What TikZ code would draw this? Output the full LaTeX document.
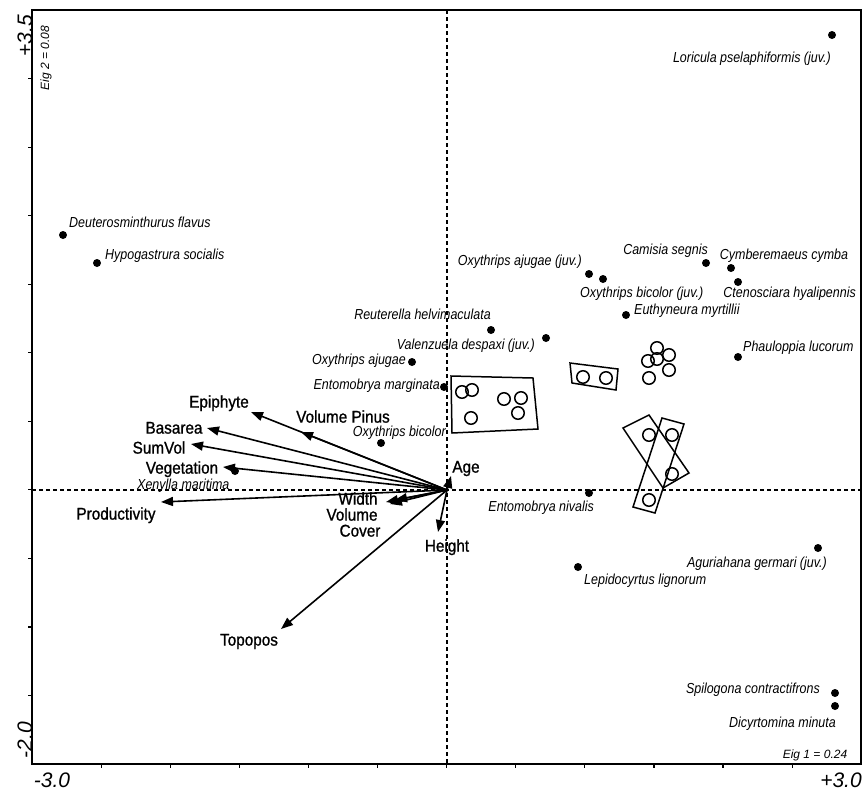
\documentclass[tikz,border=0pt]{standalone}
\usepackage{fontspec}
\setmainfont{Liberation Sans}
\newfontfamily\spfont[FakeStretch=0.86]{Liberation Sans}
\newfontfamily\varfont[FakeStretch=0.9,FakeBold=1]{Liberation Sans}
\usetikzlibrary{arrows.meta}
\begin{document}
\begin{tikzpicture}[x=1pt,y=-1pt,
  splabel/.style={font=\spfont\itshape\fontsize{14.5}{16}\selectfont, inner sep=0pt, text height=0.72em, text depth=0.2em},
  varlabel/.style={font=\varfont\fontsize{17}{19}\selectfont, inner sep=0pt, text height=0.72em, text depth=0pt},
  axlabel/.style={font=\itshape\fontsize{21}{23}\selectfont, inner sep=0pt},
  eiglabel/.style={font=\itshape\fontsize{12}{14}\selectfont, inner sep=0pt},
  dot/.style={circle, fill=black, minimum size=8pt, inner sep=0pt},
  sample/.style={circle, draw=black, line width=1.5pt, minimum size=12.5pt, inner sep=0pt},
  envarrow/.style={line width=1.6pt, -{Triangle[length=12pt,width=9pt]}},
  boxline/.style={line width=1.5pt, line join=miter},
  axisdash/.style={line width=1.6pt, dash pattern=on 4pt off 3pt},
  frameline/.style={line width=1.8pt},
  tickline/.style={line width=1.2pt}
]
\useasboundingbox (0,0) rectangle (864,793);

% frame and ticks
\draw[frameline] (32,10) rectangle (861,764);
\foreach \k in {1,...,10} \draw[tickline] (32,{10+68.55*\k}) -- ++(-4,0);
\foreach \k in {1,...,11} \draw[tickline] ({32+69.1*\k},764) -- ++(0,4);

% dashed axes
\coordinate (O) at (447,490);
\coordinate (vtop) at (447,10);
\coordinate (vbot) at (447,764);
\coordinate (hleft) at (32,490);
\coordinate (hright) at (861,490);
\draw[axisdash] (vtop) -- (vbot);
\draw[axisdash] (hleft) -- (hright);

% axis labels
\node[axlabel, rotate=90] (yhi) at (25,36) {+3.5};
\node[axlabel, rotate=90] (ylo) at (25,740) {-2.0};
\node[axlabel] (xlo) at (52,780) {-3.0};
\node[axlabel] (xhi) at (841,780) {+3.0};
\node[eiglabel, rotate=90] (eig2) at (46,58) {Eig 2 = 0.08};
\node[eiglabel] (eig1) at (815,755) {Eig 1 = 0.24};

% sample boxes
\draw[boxline] (451,376) -- (533,378) -- (538,429) -- (452,433) -- cycle;
\draw[boxline] (570,363) -- (618,369) -- (616,390) -- (572,383) -- cycle;
\draw[boxline] (623,428) -- (649,415) -- (689,473) -- (663,488) -- cycle;
\draw[boxline] (662,418) -- (684,424) -- (655,513) -- (633,507) -- cycle;

% samples
\node[sample] (s1) at (462,392) {};
\node[sample] (s2) at (472,390) {};
\node[sample] (s3) at (471,418) {};
\node[sample] (s4) at (504,399) {};
\node[sample] (s5) at (521,398) {};
\node[sample] (s6) at (518,413) {};
\node[sample] (s7) at (583,377) {};
\node[sample] (s8) at (606,378) {};
\node[sample] (s9) at (657,348) {};
\node[sample] (s10) at (648,361) {};
\node[sample] (s11) at (657,359) {};
\node[sample] (s12) at (669,355) {};
\node[sample] (s13) at (669,370) {};
\node[sample] (s14) at (649,378) {};
\node[sample] (s15) at (649,435) {};
\node[sample] (s16) at (672,435) {};
\node[sample] (s17) at (672,474) {};
\node[sample] (s18) at (649,500) {};

% species
\node[dot] (d1) at (832,35) {};
\node[splabel, anchor=east] (l1) at (831,60) {Loricula pselaphiformis (juv.)};
\node[dot] (d2) at (63,235) {};
\node[splabel, anchor=west] (l2) at (69,225) {Deuterosminthurus flavus};
\node[dot] (d3) at (97,263) {};
\node[splabel, anchor=west] (l3) at (105,257) {Hypogastrura socialis};
\node[dot] (d4) at (706,263) {};
\node[splabel, anchor=east] (l4) at (708,252) {Camisia segnis};
\node[dot] (d5) at (731,268) {};
\node[splabel] (l5) at (784,257) {Cymberemaeus cymba};
\node[dot] (d6) at (738,282) {};
\node[splabel, anchor=east] (l6) at (856,295) {Ctenosciara hyalipennis};
\node[dot] (d7) at (589,274) {};
\node[splabel, anchor=east] (l7) at (582,263) {Oxythrips ajugae (juv.)};
\node[dot] (d8) at (603,279) {};
\node[splabel, anchor=west] (l8) at (580,295) {Oxythrips bicolor (juv.)};
\node[dot] (d9) at (491,330) {};
\node[splabel, anchor=east] (l9) at (491,317) {Reuterella helvimaculata};
\node[dot] (d10) at (546,338) {};
\node[splabel, anchor=east] (l10) at (535,347) {Valenzuela despaxi (juv.)};
\node[dot] (d11) at (412,362) {};
\node[splabel, anchor=east] (l11) at (406,362) {Oxythrips ajugae};
\node[dot] (d12) at (444,387) {};
\node[splabel, anchor=east] (l12) at (440,387) {Entomobrya marginata};
\node[dot] (d13) at (381,443) {};
\node[splabel, anchor=east] (l13) at (446,434) {Oxythrips bicolor};
\node[dot] (d14) at (626,315) {};
\node[splabel, anchor=west] (l14) at (634,312) {Euthyneura myrtillii};
\node[dot] (d15) at (738,357) {};
\node[splabel, anchor=west] (l15) at (743,349) {Phauloppia lucorum};
\node[dot] (d16) at (589,493) {};
\node[splabel, anchor=east] (l16) at (594,509) {Entomobrya nivalis};
\node[dot] (d17) at (578,567) {};
\node[splabel, anchor=west] (l17) at (584,582) {Lepidocyrtus lignorum};
\node[dot] (d18) at (818,548) {};
\node[splabel, anchor=east] (l18) at (827,565) {Aguriahana germari (juv.)};
\node[dot] (d19) at (835,693) {};
\node[splabel, anchor=east] (l19) at (820,691) {Spilogona contractifrons};
\node[dot] (d20) at (835,706) {};
\node[splabel, anchor=east] (l20) at (836,725) {Dicyrtomina minuta};
\node[dot] (d21) at (235,471) {};
\node[splabel, anchor=west] (l21) at (137,487) {Xenylla maritima};

% environmental arrows
\coordinate (tEpi) at (251,412);
\coordinate (tVolP) at (301,432);
\coordinate (tBas) at (207,428);
\coordinate (tSum) at (191,444);
\coordinate (tVeg) at (223,467);
\coordinate (tProd) at (161,502);
\coordinate (tWid) at (395,500);
\coordinate (tVol) at (386,502);
\coordinate (tCov) at (390,504);
\coordinate (tHei) at (438,532);
\coordinate (tAge) at (451,476);
\coordinate (tTop) at (281,629);
\foreach \t in {tEpi,tVolP,tBas,tSum,tVeg,tProd,tWid,tVol,tCov,tHei,tAge,tTop}
  \draw[envarrow] (O) -- (\t);

\node[varlabel] (vEpi) at (219,404) {Epiphyte};
\node[varlabel] (vVolP) at (343,419) {Volume Pinus};
\node[varlabel] (vBas) at (174,430) {Basarea};
\node[varlabel] (vSum) at (159,450) {SumVol};
\node[varlabel] (vVeg) at (182,470) {Vegetation};
\node[varlabel] (vProd) at (116,516) {Productivity};
\node[varlabel] (vWid) at (358,501) {Width};
\node[varlabel] (vVol) at (352,517) {Volume};
\node[varlabel] (vCov) at (360,533) {Cover};
\node[varlabel] (vHei) at (447,548) {Height};
\node[varlabel] (vAge) at (466,469) {Age};
\node[varlabel] (vTop) at (249,642) {Topopos};
\end{tikzpicture}
\end{document}
